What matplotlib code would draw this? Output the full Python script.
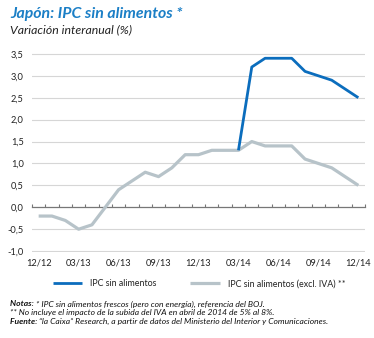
import matplotlib
matplotlib.use("Agg")
import matplotlib.pyplot as plt
import numpy as np

plt.rcParams['font.family'] = ['Lato', 'DejaVu Sans']

months = ["12/12", "01/13", "02/13", "03/13", "04/13", "05/13", "06/13", "07/13", "08/13",
          "09/13", "10/13", "11/13", "12/13", "01/14", "02/14", "03/14", "04/14", "05/14",
          "06/14", "07/14", "08/14", "09/14", "10/14", "11/14", "12/14"]
ipc_excl_iva = [-0.2, -0.2, -0.3, -0.5, -0.4, 0.0, 0.4, 0.6, 0.8, 0.7, 0.9, 1.2, 1.2,
                1.3, 1.3, 1.3, 1.5, 1.4, 1.4, 1.4, 1.1, 1.0, 0.9, 0.7, 0.5]
ipc_sin_alim = [None] * 15 + [1.3, 3.2, 3.4, 3.4, 3.4, 3.1, 3.0, 2.9, 2.7, 2.5]
tick_labels = ["12/12", "03/13", "06/13", "09/13", "12/13", "03/14", "06/14", "09/14", "12/14"]
y_ticks = [-1.0, -0.5, 0.0, 0.5, 1.0, 1.5, 2.0, 2.5, 3.0, 3.5]

BLUE = "#0b6dbd"
GRAY = "#b7c3c9"
TITLE_BLUE = "#1b7fc6"

W, H = 374, 338
fig = plt.figure(figsize=(W / 100, H / 100), dpi=100)
fig.patch.set_facecolor("white")

left, right, top, bottom = 32, 365, 53, 252
ax = fig.add_axes([left / W, 1 - bottom / H, (right - left) / W, (bottom - top) / H])

x = np.arange(len(months))
blue_vals = np.array([np.nan if v is None else v for v in ipc_sin_alim], dtype=float)

ax.plot(x, ipc_excl_iva, color=GRAY, lw=2.3, solid_capstyle='butt', zorder=3,
        label="IPC sin alimentos (excl. IVA) **")
ax.plot(x, blue_vals, color=BLUE, lw=2.0, solid_capstyle='butt', zorder=4,
        label="IPC sin alimentos")

ax.set_xlim(-0.5, len(months) - 0.5)
ax.set_ylim(-1.02, 3.52)
ax.set_yticks(y_ticks)
ax.set_yticklabels([f"{v:.1f}".replace(".", ",") for v in y_ticks])
for v in y_ticks:
    if v != 0:
        ax.axhline(v, color="#d6d6d6", lw=0.8, zorder=1)
ax.tick_params(axis='y', length=0, pad=6, labelsize=6.7, labelcolor="#222222")

for s in ['left', 'right', 'top']:
    ax.spines[s].set_visible(False)
ax.spines['bottom'].set_position(('data', 0))
ax.spines['bottom'].set_color("#777777")
ax.spines['bottom'].set_linewidth(0.9)
ax.set_xticks(np.arange(-0.5, len(months), 1.0))
ax.tick_params(axis='x', direction='in', length=2.5, width=0.8, color="#777777",
               labelbottom=False)

sec = ax.secondary_xaxis('bottom')
sec.set_xticks([months.index(t) for t in tick_labels])
sec.set_xticklabels(tick_labels)
sec.tick_params(length=0, pad=5, labelsize=6.7, labelcolor="#222222")
sec.spines['bottom'].set_visible(False)

# Title
fig.text(10 / W, 1 - 14 / H, "Japón: IPC sin alimentos *", color=TITLE_BLUE,
         fontsize=11.4, fontweight='bold', fontstyle='italic', va='center', ha='left')
fig.text(10 / W, 1 - 30 / H, "Variación interanual (%)", color="#222222",
         fontsize=8.8, fontstyle='italic', va='center', ha='left')

# Legend
handles, labels = ax.get_legend_handles_labels()
leg = fig.legend(handles[::-1], labels[::-1], loc='center', bbox_to_anchor=(199 / W, 1 - 284 / H),
                 ncol=2, frameon=False, fontsize=6.4, handlelength=3.3, columnspacing=3.8,
                 handletextpad=0.9, borderpad=0, borderaxespad=0)
for t in leg.get_texts():
    t.set_color("#222222")

# Notes
note_lines = [
    ("Notas: ", "* IPC sin alimentos frescos (pero con energía), referencia del BOJ."),
    ("", "** No incluye el impacto de la subida del IVA en abril de 2014 de 5% al 8%."),
    ("Fuente: ", "“la Caixa” Research, a partir de datos del Ministerio del Interior y Comunicaciones."),
]
ys = [304, 312.5, 321]
fs = 6.1
for (bold, rest), yy in zip(note_lines, ys):
    if bold:
        t1 = fig.text(10 / W, 1 - yy / H, bold, fontsize=fs, fontweight='bold',
                      fontstyle='italic', va='center', ha='left', color="#111111")
        ax.annotate(rest, xy=(1, 0.5), xycoords=t1, va='center', ha='left',
                    fontsize=fs, fontstyle='italic', color="#111111", annotation_clip=False)
    else:
        fig.text(10 / W, 1 - yy / H, rest, fontsize=fs, fontstyle='italic',
                 va='center', ha='left', color="#111111")

fig.savefig("out.png", dpi=100, facecolor="white")
